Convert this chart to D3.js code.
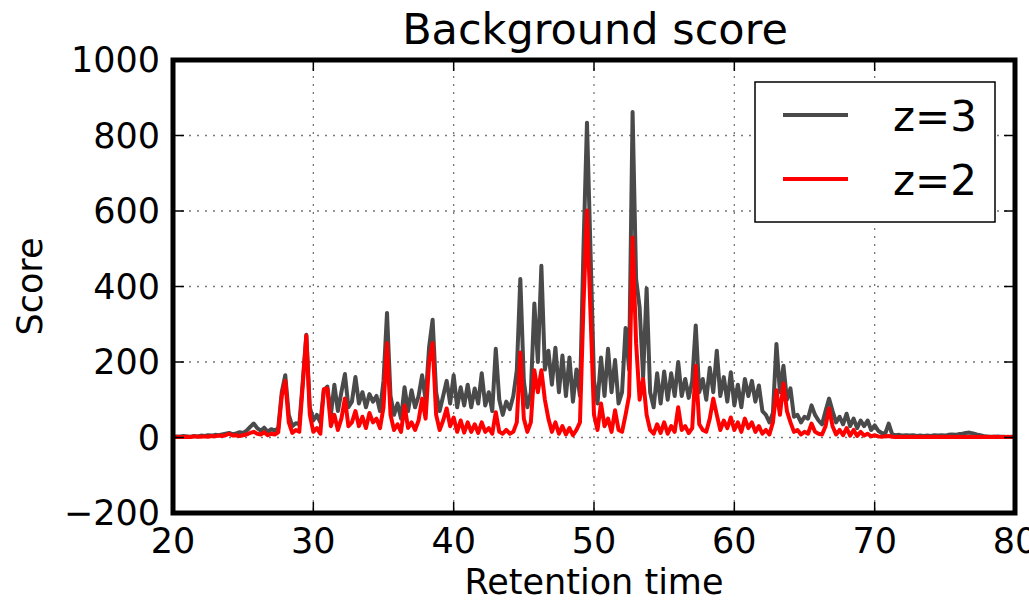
<!DOCTYPE html>
<html>
<head>
<meta charset="utf-8">
<script src="https://cdn.jsdelivr.net/npm/d3@7"></script>
<style>
  body { margin: 0; background: #fff; }
  svg { font-family: "DejaVu Sans", sans-serif; }
</style>
</head>
<body>
<script>
"use strict";

// retention time grid, one sample every 0.25
const times = d3.range(0, 241).map(i => 20 + i * 0.25);

// z=3 background score (4 samples per unit of time)
const z3 = [
  2, 3, 2, 4,        3, 2, 4, 3,        5, 4, 6, 5,        7, 6, 8, 10,
  12, 9, 11, 14,     12, 18, 28, 37,    25, 18, 26, 15,    22, 18, 25, 120,
  165, 60, 30, 38,   35, 150, 272, 80,  45, 60, 40, 125,   135, 60, 140, 70,
  120, 168, 80, 95,  160, 90, 120, 80,  115, 95, 110, 70,  150, 330, 110, 60,
  90, 50, 133, 70,   125, 80, 110, 165, 100, 240, 312, 120, 70, 110, 150, 90,
  165, 80, 133, 85,  140, 80, 130, 90,  170, 85, 120, 70,  235, 100, 60, 95,
  75, 110, 178, 420, 150, 80, 120, 355, 200, 455, 180, 230, 140, 238, 120, 217,
  110, 212, 95, 180, 110, 500, 834, 495, 150, 90, 212, 110, 235, 120, 205, 90,
  120, 290, 180, 862, 420, 345, 160, 395, 120, 80, 170, 90, 175, 100, 170, 110,
  200, 110, 155, 105, 150, 297, 120, 155, 100, 185, 120, 230, 110, 160, 95, 173,
  85, 140, 80, 155,  110, 150, 95, 138, 70, 60, 40, 65,   248, 120, 190, 100,
  130, 55, 60, 40,   55, 50, 85, 60,    45, 35, 70, 103,   70, 40, 55, 35,
  63, 30, 50, 25,    45, 30, 45, 20,    32, 18, 12, 10,    37, 8, 6, 7,
  5, 6, 5, 6,        4, 5, 4, 5,        4, 6, 5, 6,        5, 7, 8, 7,
  9, 10, 12, 13,     11, 8, 6, 4,       3, 2, 2, 3,        2, 2, 1, 2,
  1
];

// z=2 background score
const z2 = [
  1, 1, 2, 1,        2, 1, 3, 2,        2, 3, 2, 4,        3, 5, 4, 6,
  10, 5, 6, 4,       6, 8, 12, 15,      10, 8, 14, 6,      10, 8, 14, 110,
  150, 40, 12, 20,   15, 140, 270, 60,  15, 25, 10, 128,   130, 30, 60, 20,
  50, 103, 30, 40,   70, 30, 55, 25,    65, 40, 50, 25,    80, 250, 60, 20,
  35, 15, 85, 25,    40, 20, 45, 103,   50, 200, 250, 60,  20, 45, 77, 30,
  53, 15, 45, 13,    40, 15, 35, 12,    40, 15, 25, 10,    67, 15, 10, 20,
  10, 15, 40, 225,   50, 15, 40, 178,   120, 178, 100, 50, 15, 40, 10, 30,
  8, 25, 6, 20,      40, 350, 601, 330, 60, 20, 90, 30,    50, 15, 72, 20,
  15, 60, 110, 530,  250, 100, 155, 60, 20, 10, 35, 12,    40, 10, 30, 15,
  80, 20, 30, 12,    25, 190, 35, 20,   15, 50, 103, 60,   20, 45, 25, 53,
  20, 40, 15, 50,    25, 40, 15, 30,    10, 20, 8, 40,     125, 60, 143, 70,
  40, 15, 20, 8,     15, 10, 37, 15,    10, 8, 30, 77,     30, 8, 20, 6,
  25, 5, 20, 4,      15, 5, 10, 3,      6, 3, 2, 3,        4, 2, 1, 2,
  1, 2, 1, 1,        2, 1, 1, 2,        1, 1, 2, 1,        1, 2, 1, 1,
  2, 1, 1, 2,        1, 1, 2, 1,        1, 1, 2, 1,        1, 1, 2, 1,
  1
];

const xTicks = [20, 30, 40, 50, 60, 70, 80];
const yTicks = [-200, 0, 200, 400, 600, 800, 1000];
const seriesNames = ["z=3", "z=2"];
const seriesColors = ["#4a4a4a", "#ff0000"];

(function() {

const width = 1029;
const height = 602;
const left = 173, right = 1015, top = 60, bottom = 513;

let svg = d3.select("body").append("svg")
    .attr("width", width)
    .attr("height", height);

let x = d3.scaleLinear().domain([20, 80]).range([left, right]);
let y = d3.scaleLinear().domain([-200, 1000]).range([bottom, top]);

// dotted grid
let grid = svg.append("g");
grid.selectAll(".gx")
    .data(xTicks.slice(1, -1))
    .enter().append("line")
    .attr("x1", d => x(d)).attr("x2", d => x(d))
    .attr("y1", top).attr("y2", bottom)
    .attr("stroke", "#777").attr("stroke-width", 1.3)
    .attr("stroke-dasharray", "2,6");
grid.selectAll(".gy")
    .data(yTicks.slice(1, -1))
    .enter().append("line")
    .attr("y1", d => y(d)).attr("y2", d => y(d))
    .attr("x1", left).attr("x2", right)
    .attr("stroke", "#777").attr("stroke-width", 1.3)
    .attr("stroke-dasharray", "2,6");

svg.append("clipPath").attr("id", "clip")
  .append("rect")
    .attr("x", left).attr("y", top)
    .attr("width", right - left).attr("height", bottom - top);

let line = d3.line()
    .x((d, i) => x(times[i]))
    .y(d => y(d));

[z3, z2].forEach(function(s, k) {
    svg.append("path")
        .datum(s)
        .attr("clip-path", "url(#clip)")
        .attr("d", line)
        .attr("fill", "none")
        .attr("stroke", seriesColors[k])
        .attr("stroke-width", 4)
        .attr("stroke-linejoin", "round");
});

// ticks pointing inward on all four sides
let tickLen = 11;
let ticks = svg.append("g").attr("stroke", "#000").attr("stroke-width", 1.5);
xTicks.forEach(function(t) {
    ticks.append("line").attr("x1", x(t)).attr("x2", x(t)).attr("y1", bottom).attr("y2", bottom - tickLen);
    ticks.append("line").attr("x1", x(t)).attr("x2", x(t)).attr("y1", top).attr("y2", top + tickLen);
});
yTicks.forEach(function(t) {
    ticks.append("line").attr("y1", y(t)).attr("y2", y(t)).attr("x1", left).attr("x2", left + tickLen);
    ticks.append("line").attr("y1", y(t)).attr("y2", y(t)).attr("x1", right).attr("x2", right - tickLen);
});

// frame
svg.append("rect")
    .attr("x", left).attr("y", top)
    .attr("width", right - left).attr("height", bottom - top)
    .attr("fill", "none").attr("stroke", "#000").attr("stroke-width", 5);

// tick labels
svg.selectAll(".xl")
    .data(xTicks)
    .enter().append("text")
    .attr("x", d => x(d)).attr("y", 553)
    .attr("text-anchor", "middle")
    .attr("font-size", 35)
    .text(d => d);

svg.selectAll(".yl")
    .data(yTicks)
    .enter().append("text")
    .attr("x", 160).attr("y", d => y(d) + 12)
    .attr("text-anchor", "end")
    .attr("font-size", 35)
    .text(d => d < 0 ? "\u2212" + Math.abs(d) : d);

// title and axis labels
svg.append("text")
    .attr("x", (left + right) / 2 + 1).attr("y", 44)
    .attr("text-anchor", "middle")
    .attr("font-size", 43)
    .text("Background score");

svg.append("text")
    .attr("x", (left + right) / 2).attr("y", 594)
    .attr("text-anchor", "middle")
    .attr("font-size", 35)
    .text("Retention time");

svg.append("text")
    .attr("transform", "translate(42," + (top + bottom) / 2 + ") rotate(-90)")
    .attr("text-anchor", "middle")
    .attr("font-size", 35)
    .text("Score");

// legend
let legend = svg.append("g");
legend.append("rect")
    .attr("x", 755).attr("y", 82)
    .attr("width", 240).attr("height", 140)
    .attr("fill", "#fff").attr("stroke", "#000").attr("stroke-width", 1.5);

seriesNames.forEach(function(name, k) {
    let ly = 115 + k * 64;
    legend.append("line")
        .attr("x1", 783).attr("x2", 848)
        .attr("y1", ly).attr("y2", ly)
        .attr("stroke", seriesColors[k]).attr("stroke-width", 4);
    legend.append("text")
        .attr("x", 977).attr("y", ly + 16)
        .attr("text-anchor", "end")
        .attr("font-size", 42)
        .text(name);
});

})();
</script>
</body>
</html>
